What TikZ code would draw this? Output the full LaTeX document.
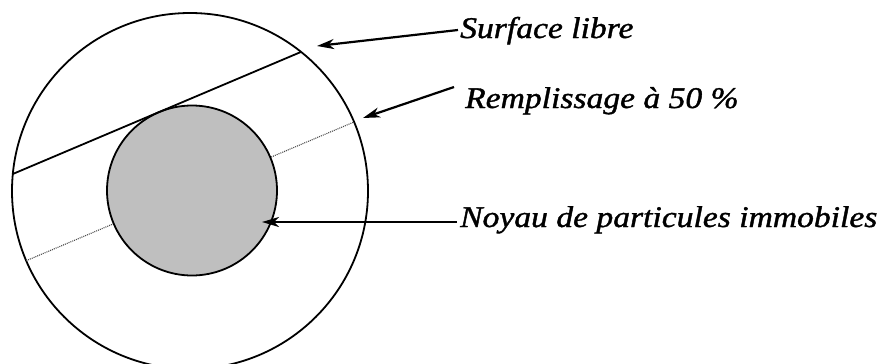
\documentclass[tikz,border=0pt]{standalone}
\usepackage{fontspec}
\setmainfont{Liberation Serif}
\newfontfamily\lblfont{Liberation Serif Italic}[FakeBold=1.2]
\usetikzlibrary{arrows.meta}
\begin{document}
\begin{tikzpicture}[x=1pt,y=-1pt,
  lbl/.style={anchor=base west, inner sep=0pt, font=\lblfont\fontsize{30}{36}\selectfont},
  ptr/.style={line width=2.2pt, -{Stealth[length=17pt,width=10pt,inset=5pt]}},
  ring/.style={line width=1.8pt},
  level/.style={line width=1.8pt},
  half/.style={line width=1.1pt, gray!60!black, dash pattern=on 1pt off 1pt}]
\useasboundingbox (0,0) rectangle (889,364);
\fill[white] (0,0) rectangle (889,364);
% outer vessel
\draw[ring] (190,191) coordinate (C) circle[radius=178pt];
% 50% filling line (through core centre)
\coordinate (h1) at (26.2,260.7);
\coordinate (h2) at (354,122);
\draw[half] (h1) -- (h2);
% core of immobile particles
\draw[ring, fill=gray!50] (192,190.5) coordinate (K) circle[radius=85pt];
% free surface (tangent to core)
\coordinate (s1) at (12.8,174);
\coordinate (s2) at (301.1,51.9);
\draw[level] (s1) -- (s2);
% labels
\node[lbl] (t1) at (460,38) {\scalebox{1.12}[1]{Surface libre}};
\node[lbl] (t2) at (465,108) {\scalebox{1.12}[1]{Remplissage à 50 \%}};
\node[lbl] (t3) at (460,227) {\scalebox{1.12}[1]{Noyau de particules immobiles}};
% arrows
\coordinate (a1s) at (458,30);
\coordinate (a1e) at (317,46);
\coordinate (a2s) at (454,87);
\coordinate (a2e) at (363,118);
\coordinate (a3s) at (457,222);
\coordinate (a3e) at (262,222);
\draw[ptr] (a1s) -- (a1e);
\draw[ptr] (a2s) -- (a2e);
\draw[ptr] (a3s) -- (a3e);
\end{tikzpicture}
\end{document}
